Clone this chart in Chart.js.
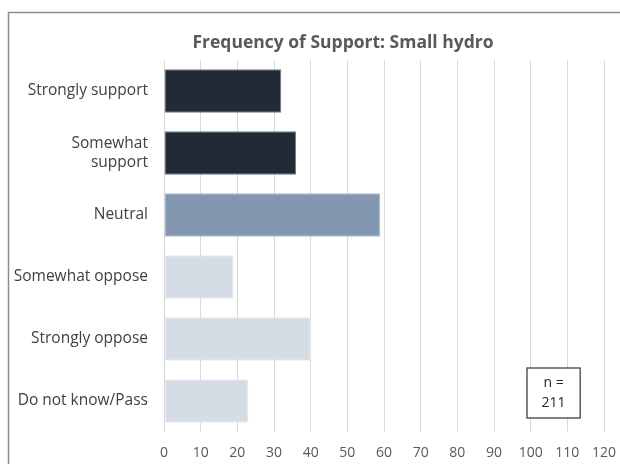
<!DOCTYPE html>
<html>
<head>
<meta charset="utf-8">
<script src="https://cdn.jsdelivr.net/npm/chart.js@4"></script>
<style>
  html, body { margin: 0; padding: 0; background: #fff; }
  #wrap { width: 620px; height: 464px; position: relative; }
</style>
</head>
<body>
<div id="wrap"><canvas id="bar-chart" width="620" height="464"></canvas></div>
<script>
let categories = ["Strongly support", ["Somewhat", "support"], "Neutral", "Somewhat oppose", "Strongly oppose", "Do not know/Pass"];
let counts = [32, 36, 59, 19, 40, 23];
let barColors = ["#222a35", "#222a35", "#8497b0", "#d6dce5", "#d6dce5", "#d6dce5"];
let edgeColors = ["#6f7d90", "#6f7d90", "#aebbcc", "#e8ecf2", "#e8ecf2", "#e8ecf2"];
let titleText = "Frequency of Support: Small hydro";
let sampleLines = ["n =", "211"];
let fontName = "'Open Sans', 'Noto Sans', sans-serif";

// frame, title and the n box
let extras = {
  id: "extras",
  beforeDraw(chart) {
    let c = chart.ctx;
    c.save();
    c.strokeStyle = "#8c8c8c";
    c.lineWidth = 1.5;
    c.strokeRect(8.5, 12.5, 700, 500);
    c.fillStyle = "#595959";
    c.font = "bold 17.5px " + fontName;
    c.textAlign = "center";
    c.textBaseline = "middle";
    c.fillText(titleText, 343, 43);
    c.restore();
  },
  afterDraw(chart) {
    let c = chart.ctx;
    let xs = chart.scales.x;
    let x0 = xs.getPixelForValue(99);
    let x1 = xs.getPixelForValue(113.5);
    let y0 = 368, y1 = 418;
    c.save();
    c.fillStyle = "#fff";
    c.fillRect(x0, y0, x1 - x0, y1 - y0);
    c.strokeStyle = "#404040";
    c.lineWidth = 1.3;
    c.strokeRect(x0, y0, x1 - x0, y1 - y0);
    c.fillStyle = "#262626";
    c.font = "14px " + fontName;
    c.textAlign = "center";
    c.textBaseline = "middle";
    c.fillText(sampleLines[0], (x0 + x1) / 2, y0 + 15);
    c.fillText(sampleLines[1], (x0 + x1) / 2, y0 + 35);
    c.restore();
  }
};

let chartInstance = new Chart(document.getElementById("bar-chart"), {
  type: "bar",
  data: {
    labels: categories,
    datasets: [{
      data: counts,
      backgroundColor: barColors,
      borderColor: edgeColors,
      borderWidth: 1,
      borderSkipped: false,
      categoryPercentage: 0.7,
      barPercentage: 1
    }]
  },
  options: {
    indexAxis: "y",
    responsive: false,
    animation: false,
    layout: { padding: { top: 60, right: 16, left: 0, bottom: 0 } },
    plugins: {
      legend: { display: false },
      tooltip: { enabled: false },
      title: { display: false }
    },
    scales: {
      x: {
        min: 0,
        max: 120,
        ticks: {
          stepSize: 10,
          color: "#595959",
          font: { family: fontName, size: 14 },
          padding: 13
        },
        grid: { color: "#d9d9d9", lineWidth: 1, drawTicks: false },
        border: { display: false },
        afterFit(s) {
          s.height = 32;
          s.paddingLeft = 0;
          s.paddingRight = 0;
        }
      },
      y: {
        ticks: {
          color: "#404040",
          font: { family: fontName, size: 15.5 },
          padding: 16
        },
        grid: { display: false, drawTicks: false },
        border: { display: false },
        afterFit(s) { s.width = 164; }
      }
    }
  },
  plugins: [extras]
});
</script>
</body>
</html>
